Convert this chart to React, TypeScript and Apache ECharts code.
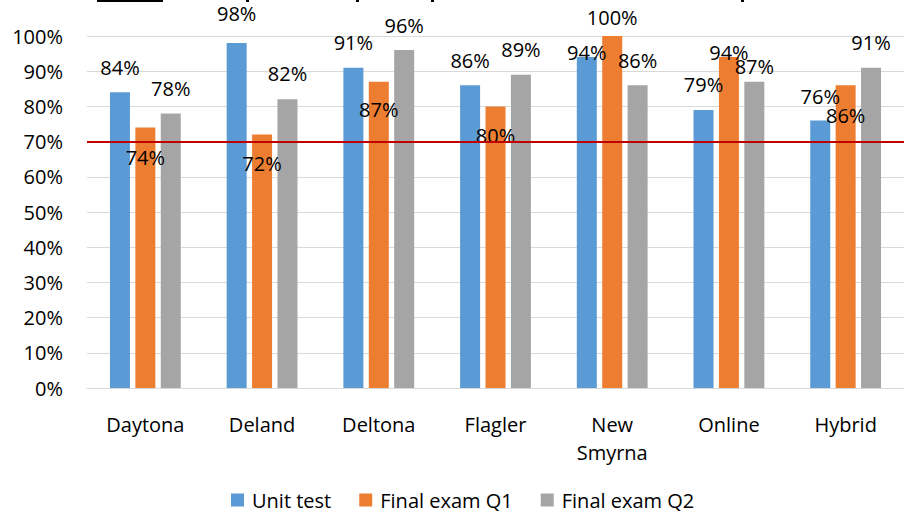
import React, { useEffect, useRef } from "react";
import * as echarts from "echarts";

const campuses = ["Daytona", "Deland", "Deltona", "Flagler", "New\nSmyrna", "Online", "Hybrid"];
const seriesNames = ["Unit test", "Final exam Q1", "Final exam Q2"];
const unitTest = [84, 98, 91, 86, 94, 79, 76];
const finalQ1 = [74, 72, 87, 80, 100, 94, 86];
const finalQ2 = [78, 82, 96, 89, 86, 87, 91];
const targetLine = 70;
const yTicks = { min: 0, max: 100, interval: 10 };

// vertical label shifts (px) relative to the bar top, as placed in the original
const unitShift = [-25, -30, -25, -25, -5, -25, -24];
const q1Shift = [30, 29, 28, 29, -19, -5, 30];
const q2Shift = [-25, -26, -25, -25, -25, -15, -25];

const colors = ["#5B9BD5", "#ED7D31", "#A5A5A5"];
const FONT = "Open Sans";

export default function App() {
  const ref = useRef<HTMLDivElement>(null);
  useEffect(() => {
    if (!ref.current) return;
    const chart = echarts.init(ref.current, undefined, { renderer: "svg" });
    const mk = (name: string, vals: number[], shifts: number[], color: string, withLine: boolean) => ({
      name,
      type: "bar",
      barWidth: 20,
      barGap: "27%",
      itemStyle: { color },
      data: vals.map((v, i) => ({
        value: v,
        label: { offset: [0, shifts[i]] },
      })),
      label: {
        show: true,
        position: "top",
        distance: 0,
        verticalAlign: "middle",
        formatter: "{c}%",
        fontSize: 20,
        fontFamily: FONT,
        color: "#000",
      },
      markLine: withLine
        ? {
            silent: true,
            symbol: "none",
            label: { show: false },
            lineStyle: { color: "#C00000", width: 2, type: "solid" },
            data: [{ yAxis: targetLine }],
          }
        : undefined,
    });
    chart.setOption({
      animation: false,
      textStyle: { fontFamily: FONT },
      color: colors,
      grid: { left: 87, right: 0, top: 36, bottom: 124, containLabel: false },
      legend: {
        bottom: -3,
        left: 226,
        itemWidth: 13,
        itemHeight: 13,
        itemGap: 28,
        icon: "rect",
        textStyle: { fontSize: 20, fontFamily: FONT, color: "#000", padding: [0, 0, 0, 3] },
        data: seriesNames,
      },
      xAxis: {
        type: "category",
        data: campuses,
        axisLine: { lineStyle: { color: "#D9D9D9", width: 1 } },
        axisTick: { show: false },
        axisLabel: { fontSize: 20, fontFamily: FONT, color: "#000", margin: 22, lineHeight: 28, interval: 0 },
      },
      yAxis: {
        type: "value",
        min: yTicks.min,
        max: yTicks.max,
        interval: yTicks.interval,
        axisLine: { show: false },
        axisTick: { show: false },
        splitLine: { lineStyle: { color: "#D9D9D9", width: 1 } },
        axisLabel: { formatter: "{value}%", fontSize: 20, fontFamily: FONT, color: "#000", margin: 24 },
      },
      graphic: [
        { type: "line", shape: { x1: 97, y1: 1, x2: 163, y2: 1 }, style: { stroke: "#000", lineWidth: 2 } },
        { type: "rect", shape: { x: 246, y: 0, width: 3, height: 2 }, style: { fill: "#000" } },
        { type: "rect", shape: { x: 356, y: 0, width: 3, height: 2 }, style: { fill: "#000" } },
        { type: "rect", shape: { x: 431, y: 0, width: 3, height: 2 }, style: { fill: "#000" } },
        { type: "rect", shape: { x: 741, y: 0, width: 3, height: 2 }, style: { fill: "#000" } },
      ],
      series: [
        mk(seriesNames[0], unitTest, unitShift, colors[0], false),
        mk(seriesNames[1], finalQ1, q1Shift, colors[1], false),
        mk(seriesNames[2], finalQ2, q2Shift, colors[2], true),
      ],
    });
    return () => chart.dispose();
  }, []);
  return (
    <div
      ref={ref}
      style={{ width: 904, height: 512, position: "absolute", left: 0, top: 0, background: "#fff" }}
    />
  );
}
